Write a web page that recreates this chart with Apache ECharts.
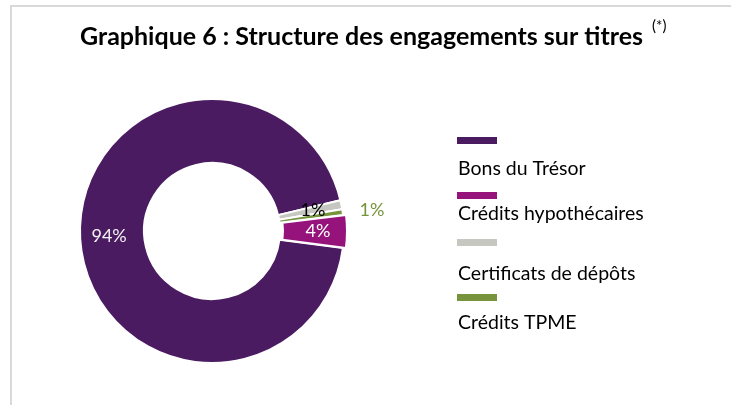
<!DOCTYPE html>
<html>
<head>
<meta charset="utf-8">
<title>Structure des engagements sur titres</title>
<script src="https://cdn.jsdelivr.net/npm/echarts@6/dist/echarts.min.js"></script>
<style>
  html, body { margin: 0; padding: 0; background: #fff; overflow: hidden; }
  .frame {
    position: absolute; left: 10px; top: 5px; width: 760px; height: 440px;
    border-left: 2px solid #d9d9d9; border-top: 2px solid #d9d9d9;
  }
  #chart { position: absolute; left: 0; top: 0; width: 731px; height: 405px; }
</style>
</head>
<body>
<div class="frame"></div>
<div id="chart"></div>
<script>
// catégories, dans l'ordre de la légende
const categories = ['Bons du Trésor', 'Crédits hypothécaires', 'Certificats de dépôts', 'Crédits TPME'];
// parts (%)
const values = [94.2, 4.0, 1.1, 0.7];
// ordre des parts dans l'anneau (sens horaire)
const drawOrder = [0, 2, 3, 1];

const colors = ['#4b1b62', '#95137a', '#c7c7c2', '#77933c'];
const labelColors = ['#f2f2f2', '#ffffff', '#000000', '#77933c'];
const labelPos = ['inside', 'inside', 'inside', 'outside'];
// positions verticales de la légende (icône au-dessus, texte en dessous)
const iconTops = [135, 190, 237, 292];
const textTops = [157, 202, 262, 311];

const font = 'Lato, "Open Sans", sans-serif';
const chart = echarts.init(document.getElementById('chart'));

const seriesData = drawOrder.map(i => ({
  name: categories[i],
  value: values[i],
  selected: i === 1, // la part des crédits hypothécaires est légèrement détachée
  itemStyle: { color: colors[i] },
  label: { position: labelPos[i], color: labelColors[i] },
  labelLine: { show: false, length: 12, length2: 0 },
}));

// une légende par élément : icône seule puis texte seul
const iconLegends = categories.map((name, i) => ({
  data: [name],
  left: 455,
  top: iconTops[i],
  padding: 0,
  icon: 'rect',
  itemWidth: 42,
  itemHeight: 9,
  selectedMode: false,
  formatter: () => '',
  textStyle: { fontSize: 1, lineHeight: 1 },
}));
const textLegends = categories.map((name, i) => ({
  data: [{ name: name, icon: 'rect' }],
  left: 452,
  top: textTops[i],
  padding: 0,
  itemWidth: 0,
  itemHeight: 0,
  selectedMode: false,
  textStyle: { fontFamily: font, fontSize: 19.5, lineHeight: 24, color: '#000' },
}));

const option = {
  animation: false,
  title: [
    {
      text: 'Graphique 6 : Structure des engagements sur titres',
      left: 80,
      top: 22,
      padding: 0,
      textStyle: { fontFamily: font, fontSize: 25, fontWeight: 'bold', color: '#000', lineHeight: 30 },
    },
    {
      text: '(*)',
      left: 652,
      top: 19,
      padding: 0,
      textStyle: { fontFamily: font, fontSize: 15, fontWeight: 'normal', color: '#000' },
    },
  ],
  legend: iconLegends.concat(textLegends),
  series: [
    {
      type: 'pie',
      center: [212, 231],
      radius: [68, 132],
      startAngle: -7.4,
      clockwise: true,
      avoidLabelOverlap: false,
      selectedMode: 'single',
      selectedOffset: 3,
      itemStyle: { borderColor: '#fff', borderWidth: 2 },
      emphasis: { disabled: true },
      label: {
        show: true,
        fontFamily: font,
        fontSize: 18,
        formatter: p => Math.round(p.percent) + '%',
      },
      data: seriesData,
    },
  ],
};
chart.setOption(option);
</script>
</body>
</html>
